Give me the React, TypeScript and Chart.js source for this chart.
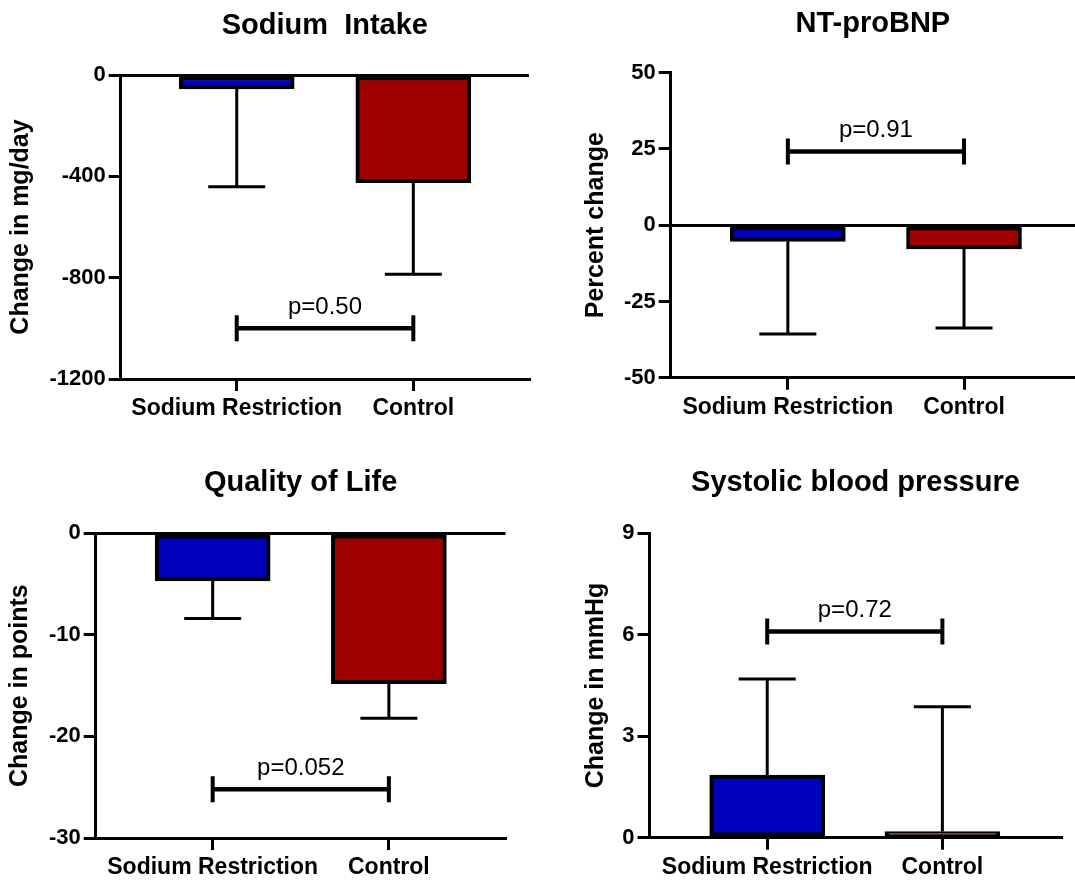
import React, { useEffect, useRef } from 'react';
import { Chart, registerables } from 'chart.js';

Chart.register(...registerables);

// ---------- data ----------
const categories = ['Sodium Restriction', 'Control'];
const groupColors = ['#0000C0', '#A00000'];

const sodiumMeans = [-55, -425];
const sodiumErrorEnds = [-441, -787];
const sodiumTicks = [-1200, -800, -400, 0];
const sodiumBracket = -1000;
const sodiumP = 'p=0.50';

const ntMeans = [-5.3, -7.8];
const ntErrorEnds = [-35.7, -33.7];
const ntTicks = [-50, -25, 0, 25, 50];
const ntBracket = 24.2;
const ntP = 'p=0.91';

const qolMeans = [-4.7, -14.8];
const qolErrorEnds = [-8.4, -18.2];
const qolTicks = [-30, -20, -10, 0];
const qolBracket = -25.2;
const qolP = 'p=0.052';

const sbpMeans = [1.85, 0.18];
const sbpErrorEnds = [4.69, 3.87];
const sbpTicks = [0, 3, 6, 9];
const sbpBracket = 6.1;
const sbpP = 'p=0.72';

// ---------- styling / layout ----------
const FONT = "'Liberation Sans', Arial, Helvetica, sans-serif";
const TITLE_SIZE = 29;
const YTITLE_SIZE = 25;
const YTICK_SIZE = 22;
const XTICK_SIZE = 23;
const P_SIZE = 24;

const panels = [
  {
    key: 'sodium', title: 'Sodium  Intake', yTitle: 'Change in mg/day',
    means: sodiumMeans, errorEnds: sodiumErrorEnds, ticks: sodiumTicks,
    bracket: sodiumBracket, pLabel: sodiumP,
    box: { x: 0, y: 0, w: 537, h: 440 },
    area: { left: 120.7, right: 529, top: 75, bottom: 379 },
    xMin: -0.657, xMax: 1.655, titleY: 26, yTitleX: 21,
  },
  {
    key: 'nt', title: 'NT-proBNP', yTitle: 'Percent change',
    means: ntMeans, errorEnds: ntErrorEnds, ticks: ntTicks,
    bracket: ntBracket, pLabel: ntP,
    box: { x: 537, y: 0, w: 538, h: 440 },
    area: { left: 670.7, right: 1075, top: 72.7, bottom: 377.7 },
    xMin: -0.665, xMax: 1.63, titleY: 23.7, yTitleX: 595.8,
  },
  {
    key: 'qol', title: 'Quality of Life', yTitle: 'Change in points',
    means: qolMeans, errorEnds: qolErrorEnds, ticks: qolTicks,
    bracket: qolBracket, pLabel: qolP,
    box: { x: 0, y: 440, w: 537, h: 445 },
    area: { left: 95.7, right: 505.5, top: 533.3, bottom: 838 },
    xMin: -0.664, xMax: 1.662, titleY: 483, yTitleX: 20.2,
  },
  {
    key: 'sbp', title: 'Systolic blood pressure', yTitle: 'Change in mmHg',
    means: sbpMeans, errorEnds: sbpErrorEnds, ticks: sbpTicks,
    bracket: sbpBracket, pLabel: sbpP,
    box: { x: 537, y: 440, w: 538, h: 445 },
    area: { left: 649.5, right: 1061.5, top: 533.3, bottom: 837.7 },
    xMin: -0.672, xMax: 1.68, titleY: 483.3, yTitleX: 595.8,
  },
];

function Panel({ cfg }: { cfg: any }) {
  const ref = useRef<HTMLCanvasElement | null>(null);

  useEffect(() => {
    const c = cfg;
    const W = c.box.w;
    const H = c.box.h;
    const titleLH = TITLE_SIZE * 1.2;
    const padTop = c.titleY - c.box.y - titleLH / 2;
    const padBottom = c.area.top - c.box.y - padTop - titleLH;
    const yWidth = c.area.left - c.box.x;
    const xHeight = c.box.y + H - c.area.bottom;
    const rightPad = c.box.x + W - c.area.right;
    const yTitlePad = c.yTitleX - c.box.x - (YTITLE_SIZE * 1.2) / 2;
    const yMin = Math.min(...c.ticks);
    const yMax = Math.max(...c.ticks);

    const overlay = {
      id: 'overlay_' + c.key,
      afterDatasetsDraw(chart: any) {
        const ctx = chart.ctx;
        const xs = chart.scales.x;
        const ys = chart.scales.y;
        ctx.save();
        ctx.strokeStyle = '#000';
        ctx.lineCap = 'butt';
        ctx.lineWidth = 3;
        c.means.forEach((m: number, i: number) => {
          const x = xs.getPixelForValue(i);
          const y0 = ys.getPixelForValue(m);
          const y1 = ys.getPixelForValue(c.errorEnds[i]);
          ctx.beginPath();
          ctx.moveTo(x, y0);
          ctx.lineTo(x, y1);
          ctx.moveTo(x - 28.5, y1);
          ctx.lineTo(x + 28.5, y1);
          ctx.stroke();
        });
        const by = ys.getPixelForValue(c.bracket);
        const bx0 = xs.getPixelForValue(0);
        const bx1 = xs.getPixelForValue(1);
        ctx.lineWidth = 4.5;
        ctx.beginPath();
        ctx.moveTo(bx0, by);
        ctx.lineTo(bx1, by);
        ctx.stroke();
        ctx.lineWidth = 4;
        ctx.beginPath();
        ctx.moveTo(bx0, by - 13);
        ctx.lineTo(bx0, by + 13);
        ctx.moveTo(bx1, by - 13);
        ctx.lineTo(bx1, by + 13);
        ctx.stroke();
        ctx.fillStyle = '#000';
        ctx.font = `${P_SIZE}px ${FONT}`;
        ctx.textAlign = 'center';
        ctx.textBaseline = 'alphabetic';
        ctx.fillText(c.pLabel, (bx0 + bx1) / 2, by - 14.5);
        ctx.restore();
      },
    };

    const chart = new Chart(ref.current as HTMLCanvasElement, {
      type: 'bar',
      data: {
        datasets: [
          {
            data: c.means.map((m: number, i: number) => ({ x: i, y: m })),
            backgroundColor: groupColors,
            borderColor: '#000',
            borderWidth: 4,
            borderSkipped: false,
            barThickness: 115,
          } as any,
        ],
      },
      options: {
        responsive: false,
        animation: false,
        devicePixelRatio: 1,
        events: [],
        layout: { padding: { left: 0, top: 0, bottom: 0, right: rightPad } },
        plugins: {
          legend: { display: false },
          tooltip: { enabled: false },
          title: {
            display: true,
            text: c.title,
            fullSize: false,
            color: '#000',
            font: { family: FONT, size: TITLE_SIZE, weight: 'bold', lineHeight: 1.2 },
            padding: { top: padTop, bottom: padBottom },
          },
        },
        scales: {
          x: {
            type: 'linear',
            min: c.xMin,
            max: c.xMax,
            offset: false,
            afterBuildTicks: (s: any) => {
              s.ticks = categories.map((_, i) => ({ value: i }));
            },
            afterFit: (s: any) => {
              s.height = xHeight;
            },
            ticks: {
              callback: (v: any) => categories[v as number] ?? '',
              color: '#000',
              font: { family: FONT, size: XTICK_SIZE, weight: 'bold', lineHeight: 1.2 },
              padding: 4,
              maxRotation: 0,
              minRotation: 0,
              autoSkip: false,
            },
            grid: {
              offset: false,
              drawOnChartArea: false,
              drawTicks: true,
              tickLength: 12,
              tickColor: '#000',
              tickWidth: 3,
              lineWidth: 3,
              color: '#000',
            },
            border: { display: true, color: '#000', width: 3 },
          },
          y: {
            type: 'linear',
            min: yMin,
            max: yMax,
            afterBuildTicks: (s: any) => {
              s.ticks = c.ticks.map((v: number) => ({ value: v }));
            },
            afterFit: (s: any) => {
              s.width = yWidth;
            },
            ticks: {
              callback: (v: any) => String(v),
              color: '#000',
              font: { family: FONT, size: YTICK_SIZE, weight: 'bold', lineHeight: 1.2 },
              padding: 3,
              autoSkip: false,
            },
            grid: {
              drawOnChartArea: true,
              drawTicks: true,
              tickLength: 12,
              tickColor: '#000',
              tickWidth: 3,
              lineWidth: 3,
              color: (ctx: any) => (ctx.tick && ctx.tick.value === 0 ? '#000' : 'rgba(0,0,0,0)'),
            },
            border: { display: true, color: '#000', width: 3 },
            title: {
              display: true,
              text: c.yTitle,
              color: '#000',
              font: { family: FONT, size: YTITLE_SIZE, weight: 'bold', lineHeight: 1.2 },
              padding: { top: yTitlePad, bottom: 0 },
            },
          },
        },
      } as any,
      plugins: [overlay],
    });
    return () => chart.destroy();
  }, [cfg]);

  return (
    <canvas
      ref={ref}
      width={cfg.box.w}
      height={cfg.box.h}
      style={{
        position: 'absolute',
        left: cfg.box.x,
        top: cfg.box.y,
        width: cfg.box.w,
        height: cfg.box.h,
      }}
    />
  );
}

export default function App() {
  return (
    <div
      style={{
        position: 'absolute',
        left: 0,
        top: 0,
        width: 1075,
        height: 885,
        background: '#ffffff',
        overflow: 'hidden',
      }}
    >
      {panels.map((p) => (
        <Panel key={p.key} cfg={p} />
      ))}
    </div>
  );
}
